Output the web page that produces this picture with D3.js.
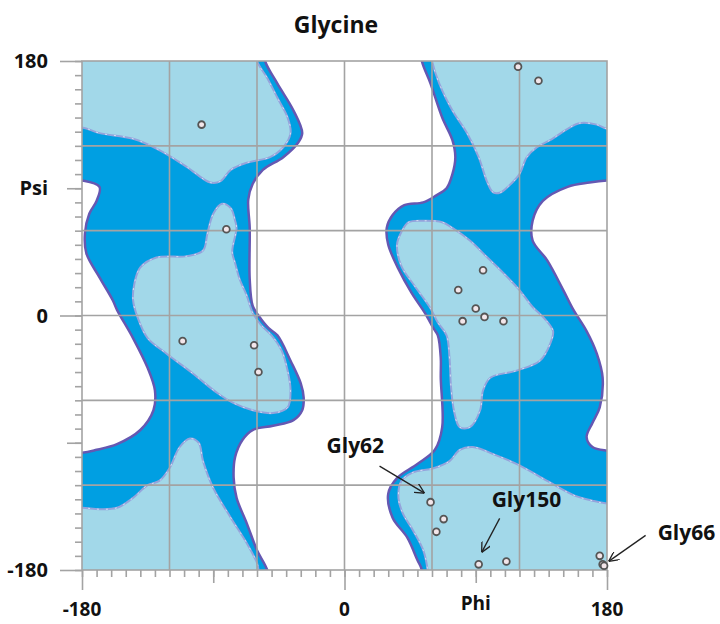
<!DOCTYPE html>
<html>
<head>
<meta charset="utf-8">
<script src="https://cdn.jsdelivr.net/npm/d3@7"></script>
<style>
  body { margin: 0; background: #fff; }
  text { font-family: "Open Sans", sans-serif; font-weight: bold; fill: #111; }
</style>
</head>
<body>
<div id="chart"></div>
<script>
// Datos: puntos (phi, psi) de las glicinas
const phiValues = [-98, -81, -111, -62, -59, 119, 133, 95, 78, 90, 96, 81, 109, 59, 68, 63, 92, 111, 175, 177, 178];
const psiValues = [135, 61, -18, -21, -40, 176, 166, 32, 18, 5, -1, -4, -4, -132, -144, -153, -176, -174, -170, -176, -177];

// Etiquetas de ejes
const psiLabelValues = [180, 90, 0, -180];
const psiLabels = ["180", "Psi", "0", "-180"];
const phiLabelValues = [-180, 0, 90, 180];
const phiLabels = ["-180", "0", "Phi", "180"];
const gridValues = [-120, -60, 0, 60, 120];

// Anotaciones
const notes = [
  { name: "Gly62", phi: 59, psi: -132 },
  { name: "Gly150", phi: 92, psi: -176 },
  { name: "Gly66", phi: 177, psi: -176 }
];

// Regiones prohibidas (blanco) en grados phi/psi
const whiteCentral = [
  [-57, 195], [-54.5, 180], [-46, 164], [-35, 145], [-29, 129], [-32, 122], [-42, 112], [-56, 103],
  [-63, 93], [-66, 82], [-65, 62], [-65, 26], [-63, 7], [-59, 0], [-52, -9], [-46, -14], [-37, -32],
  [-30, -48], [-28, -58], [-29, -67], [-35, -74], [-49, -78], [-63, -81], [-70, -88], [-75, -100],
  [-76, -115], [-74, -129], [-67, -147], [-60, -166], [-53, -180], [-50, -195],
  [52, -195], [53, -180], [50, -173], [43, -157], [33, -143], [30, -126], [36, -115], [50, -105],
  [62, -95], [67, -79], [66, -44], [66, -30], [64, -14], [61, -9], [55, 2], [46, 16], [37, 33],
  [30, 50], [29, 62], [33, 71], [41, 78], [54, 80], [63, 85], [70, 90], [74, 100], [76, 112],
  [74, 124], [67, 140], [59, 164], [53, 180], [51, 195]
];
const whiteLeftHole = [
  [-200, 96], [-180, 95.5], [-168, 91], [-170, 81], [-175, 72], [-178, 58], [-177, 44], [-168, 27],
  [-159, 11], [-156, 4], [-145, -16], [-135, -37], [-130, -53], [-131, -67], [-140, -81],
  [-156, -91], [-170, -95], [-180, -97], [-200, -97]
];
const whiteRightHole = [
  [200, 96], [180, 95.5], [168, 94], [153, 91], [136, 81], [129, 67], [129, 53], [139, 39],
  [150, 18], [157, 4], [166, -11], [173, -27], [177, -44], [175, -65], [170, -76], [166, -86],
  [170, -93], [180, -95.5], [200, -96]
];

// Regiones favorecidas (azul claro)
const lightTopLeft = [
  [-200, 195], [-200, 133], [-180, 133], [-168, 129], [-145, 125], [-127, 117], [-108, 105],
  [-92, 94], [-85, 95], [-78, 103], [-67, 108], [-51, 112], [-42, 119], [-37, 129], [-39, 140],
  [-46, 154], [-53, 168], [-60, 180], [-62, 195]
];
const lightBottomLeft = [
  [-200, -195], [-200, -136], [-180, -136], [-168, -137], [-156, -136], [-145, -129], [-135, -120],
  [-127, -117], [-120, -108], [-113, -93], [-106, -87], [-100, -90], [-97, -103], [-90, -122],
  [-78, -143], [-67, -161], [-60, -175], [-59, -180], [-58, -195]
];
const lightMidLeft = [
  [-84, 79], [-78, 76], [-75, 67], [-74, 62], [-77, 45], [-75, 37], [-72, 26], [-67, 14], [-63, 2],
  [-57, -7], [-50, -14], [-43, -25], [-39, -39], [-37, -53], [-39, -65], [-49, -69], [-63, -67],
  [-76, -62], [-87, -55], [-104, -41], [-122, -27], [-135, -16], [-142, -1], [-145, 11], [-144, 23],
  [-140, 34], [-129, 41], [-108, 42], [-97, 46], [-94, 58], [-90, 72]
];
const lightTopRight = [
  [58, 195], [60, 180], [65, 164], [74, 145], [84, 129], [92, 112], [98, 94], [102, 87], [107, 87],
  [113, 92], [120, 100], [125, 112], [132, 119], [141, 124], [153, 132], [161, 136], [173, 135],
  [180, 132], [200, 132], [200, 195]
];
const lightBottomRight = [
  [200, -195], [200, -133], [180, -133], [170, -131], [157, -127], [139, -117], [120, -106],
  [102, -98], [88, -93], [79, -95], [72, -103], [61, -108], [47, -111], [39, -117], [37, -129],
  [40, -140], [47, -152], [54, -166], [57, -180], [58, -195]
];
const lightMidRight = [
  [44, 66], [55, 67], [67, 66], [74, 62], [86, 53], [98, 41], [109, 30], [120, 18], [129, 6],
  [137, -2], [143, -11], [141, -20], [134, -32], [118, -39], [100, -44], [95, -53], [93, -67],
  [86, -79], [79, -79], [75, -67], [73, -50], [72, -30], [70, -14], [64, -5], [59, 5], [48, 21],
  [39, 35], [36, 50], [39, 59]
];

const width = 720;
const height = 624;

const svg = d3.select("#chart").append("svg")
    .attr("width", width)
    .attr("height", height);

const x = d3.scaleLinear().domain([-180, 180]).range([82, 607]);
const y = d3.scaleLinear().domain([-180, 180]).range([570, 61]);

// Recorte al área del gráfico
svg.append("clipPath").attr("id", "plot")
  .append("rect")
    .attr("x", x(-180)).attr("y", y(180))
    .attr("width", x(180) - x(-180)).attr("height", y(-180) - y(180));

const area = svg.append("g").attr("clip-path", "url(#plot)");

const shape = d3.line()
    .x(d => x(d[0]))
    .y(d => y(d[1]))
    .curve(d3.curveCatmullRomClosed.alpha(0.5));

// Fondo: región permitida
area.append("rect")
    .attr("x", x(-180)).attr("y", y(180))
    .attr("width", x(180) - x(-180)).attr("height", y(-180) - y(180))
    .attr("fill", "#009fe2");

area.selectAll("path.white")
  .data([whiteCentral, whiteLeftHole, whiteRightHole])
  .enter().append("path")
    .attr("class", "white")
    .attr("d", shape)
    .attr("fill", "#fff")
    .attr("stroke", "#6558b2")
    .attr("stroke-width", 2.5);

const lights = [lightTopLeft, lightBottomLeft, lightMidLeft, lightTopRight, lightBottomRight, lightMidRight];

area.selectAll("path.light")
  .data(lights)
  .enter().append("path")
    .attr("class", "light")
    .attr("d", shape)
    .attr("fill", "#a2d8e9")
    .attr("stroke", "#94a4dc")
    .attr("stroke-width", 2);

area.selectAll("path.lightdots")
  .data(lights)
  .enter().append("path")
    .attr("class", "lightdots")
    .attr("d", shape)
    .attr("fill", "none")
    .attr("stroke", "#e8eefa")
    .attr("stroke-width", 0.8)
    .attr("stroke-dasharray", "2,7");

// Rejilla
const grid = svg.append("g").attr("stroke", "#a3a3a3").attr("stroke-width", 1.6);
grid.selectAll("line.v").data(gridValues).enter().append("line")
    .attr("x1", d => x(d)).attr("x2", d => x(d))
    .attr("y1", y(180)).attr("y2", y(-180));
grid.selectAll("line.h").data(gridValues).enter().append("line")
    .attr("x1", x(-180)).attr("x2", x(180))
    .attr("y1", d => y(d)).attr("y2", d => y(d));
grid.append("rect")
    .attr("x", x(-180)).attr("y", y(180))
    .attr("width", x(180) - x(-180)).attr("height", y(-180) - y(180))
    .attr("fill", "none");

// Ejes: marcas menores, medias y mayores
function ticks(axis, vals, size) {
  return axis.tickValues(vals).tickSize(size).tickFormat("");
}
const minor = d3.range(-180, 181, 10);
const leftG = svg.append("g").attr("transform", `translate(${x(-180)},0)`);
leftG.append("g").call(ticks(d3.axisLeft(y), minor, 7));
leftG.append("g").call(ticks(d3.axisLeft(y), [-90, 90], 15));
leftG.append("g").call(ticks(d3.axisLeft(y), [-180, 0, 180], 22));

const bottomG = svg.append("g").attr("transform", `translate(0,${y(-180)})`);
bottomG.append("g").call(ticks(d3.axisBottom(x), minor, 7));
bottomG.append("g").call(ticks(d3.axisBottom(x), [-90, 90], 13));
bottomG.append("g").call(ticks(d3.axisBottom(x), [-180, 0, 180], 20));

svg.selectAll(".domain").remove();
svg.selectAll(".tick line").attr("stroke", "#a3a3a3").attr("stroke-width", 1.6);

// Etiquetas de ejes
svg.selectAll("text.psi")
  .data(psiLabelValues)
  .enter().append("text")
    .attr("class", "psi")
    .attr("x", 48)
    .attr("y", d => y(d))
    .attr("dy", "0.36em")
    .attr("text-anchor", "end")
    .attr("font-size", 20)
    .text((d, i) => psiLabels[i]);

svg.selectAll("text.phi")
  .data(phiLabelValues)
  .enter().append("text")
    .attr("class", "phi")
    .attr("x", d => x(d))
    .attr("y", (d, i) => phiLabels[i] === "Phi" ? 610 : 616)
    .attr("text-anchor", "middle")
    .attr("font-size", 19)
    .text((d, i) => phiLabels[i]);

// Título
svg.append("text")
    .attr("x", 336)
    .attr("y", 33)
    .attr("text-anchor", "middle")
    .attr("font-size", 23)
    .text("Glycine");

// Puntos
svg.selectAll("circle.pt")
  .data(phiValues.map((p, i) => [p, psiValues[i]]))
  .enter().append("circle")
    .attr("class", "pt")
    .attr("cx", d => x(d[0]))
    .attr("cy", d => y(d[1]))
    .attr("r", 3.4)
    .attr("fill", "#f3e6ea")
    .attr("stroke", "#555")
    .attr("stroke-width", 1.8);

// Flechas de anotación
svg.append("defs").append("marker")
    .attr("id", "arrow")
    .attr("viewBox", "0 0 10 10")
    .attr("refX", 10).attr("refY", 5)
    .attr("markerWidth", 10).attr("markerHeight", 10)
    .attr("markerUnits", "userSpaceOnUse")
    .attr("orient", "auto")
  .append("path")
    .attr("d", "M0,0L10,5L0,10")
    .attr("fill", "none")
    .attr("stroke", "#222")
    .attr("stroke-width", 1.3);

const offsets = {
  Gly62: { tip: [-6, -9], tail: [-51, -36], label: [-104, -49] },
  Gly150: { tip: [3, -12], tail: [21, -46], label: [13, -57] },
  Gly66: { tip: [6, -3], tail: [43, -29], label: [55, -24] }
};

notes.forEach(n => {
  const px = x(n.phi), py = y(n.psi), o = offsets[n.name];
  svg.append("line")
      .attr("x1", px + o.tail[0]).attr("y1", py + o.tail[1])
      .attr("x2", px + o.tip[0]).attr("y2", py + o.tip[1])
      .attr("stroke", "#222")
      .attr("stroke-width", 1.3)
      .attr("marker-end", "url(#arrow)");
  svg.append("text")
      .attr("x", px + o.label[0])
      .attr("y", py + o.label[1])
      .attr("font-size", 21)
      .text(n.name);
});
</script>
</body>
</html>
